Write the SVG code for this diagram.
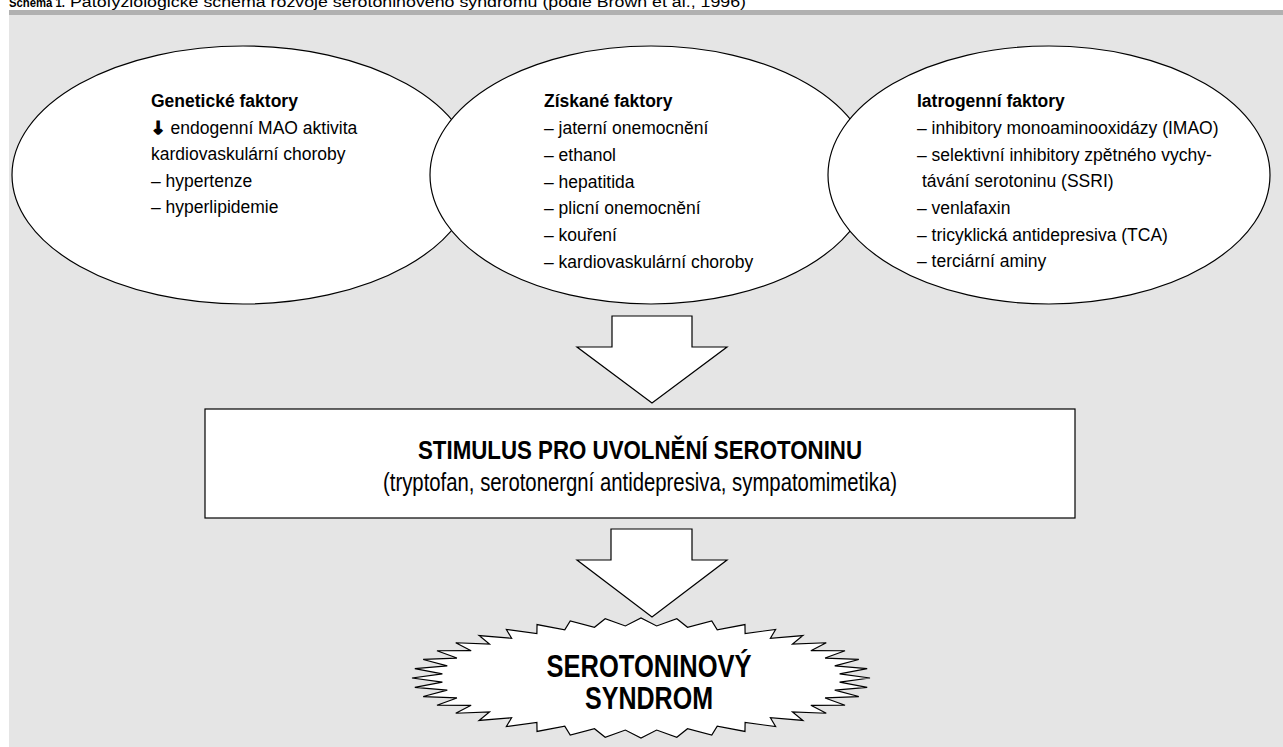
<svg xmlns="http://www.w3.org/2000/svg" width="1283" height="747" viewBox="0 0 1283 747">
<style>
.t{font-family:"Liberation Sans",Arial,sans-serif;font-size:17.5px;fill:#000}
.b{font-weight:bold}
.shape{fill:#fff;stroke:#000;stroke-width:1.2}
</style>
<rect x="0" y="0" width="1283" height="747" fill="#fff"/>
<text x="9" y="7" style="font-family:'Liberation Sans',Arial,sans-serif;font-size:13px;font-weight:bold" textLength="56" lengthAdjust="spacingAndGlyphs">Schéma 1.</text>
<text x="70" y="7" style="font-family:'Liberation Sans',Arial,sans-serif;font-size:14px" textLength="676" lengthAdjust="spacingAndGlyphs">Patofyziologické schéma rozvoje serotoninového syndromu (podle Brown et al., 1996)</text>
<rect x="9" y="10" width="1274" height="5" fill="#b1b1b1"/>
<rect x="9" y="15" width="1274" height="732" fill="#e5e5e5"/>

<g id="genetic">
<ellipse class="shape" cx="243" cy="175" rx="231" ry="129"/>
<text class="t b" x="151" y="107">Genetické faktory</text>
<text class="t" x="151" y="134"><tspan font-family="DejaVu Sans,sans-serif" font-weight="bold" stroke="#000" stroke-width="1.4">↓</tspan> endogenní MAO aktivita</text>
<text class="t" x="151" y="160">kardiovaskulární choroby</text>
<text class="t" x="151" y="187">– hypertenze</text>
<text class="t" x="151" y="213">– hyperlipidemie</text>
</g>

<g id="acquired">
<ellipse class="shape" cx="651" cy="175" rx="221" ry="129"/>
<text class="t b" x="544" y="107">Získané faktory</text>
<text class="t" x="544" y="134">– jaterní onemocnění</text>
<text class="t" x="544" y="161">– ethanol</text>
<text class="t" x="544" y="188">– hepatitida</text>
<text class="t" x="544" y="214">– plicní onemocnění</text>
<text class="t" x="544" y="241">– kouření</text>
<text class="t" x="544" y="268">– kardiovaskulární choroby</text>
</g>

<g id="iatrogenic">
<ellipse class="shape" cx="1049" cy="175" rx="221" ry="129"/>
<text class="t b" x="917" y="107">Iatrogenní faktory</text>
<text class="t" x="917" y="134">– inhibitory monoaminooxidázy (IMAO)</text>
<text class="t" x="917" y="161">– selektivní inhibitory zpětného vychy-</text>
<text class="t" x="922" y="187">távání serotoninu (SSRI)</text>
<text class="t" x="917" y="214">– venlafaxin</text>
<text class="t" x="917" y="241">– tricyklická antidepresiva (TCA)</text>
<text class="t" x="917" y="267">– terciární aminy</text>
</g>

<g id="connectors">
<polygon class="shape" points="612,316 692,316 692,347 727,347 652,403 577,347 612,347"/>
<polygon class="shape" points="611,529 692,529 692,560 727,560 652,617 577,560 611,560"/>
</g>

<g id="stimulus">
<rect class="shape" x="205" y="409" width="870" height="109"/>
<text class="t b" x="640" y="459" style="font-size:26px" text-anchor="middle" textLength="444" lengthAdjust="spacingAndGlyphs">STIMULUS PRO UVOLNĚNÍ SEROTONINU</text>
<text class="t" x="640" y="491" style="font-size:26px" text-anchor="middle" textLength="514" lengthAdjust="spacingAndGlyphs">(tryptofan, serotonergní antidepresiva, sympatomimetika)</text>
</g>

<g id="syndrome">
<polygon class="shape" vector-effect="non-scaling-stroke" transform="translate(641,678) scale(2.29,0.6)" points="100,0 86.73,-6.83 98.77,-15.64 84.6,-20.31 95.11,-30.9 80.38,-33.29 89.1,-45.4 74.18,-45.46 80.9,-58.78 66.16,-56.5 70.71,-70.71 56.5,-66.16 58.78,-80.9 45.46,-74.18 45.4,-89.1 33.29,-80.38 30.9,-95.11 20.31,-84.6 15.64,-98.77 6.83,-86.73 0,-100 -6.83,-86.73 -15.64,-98.77 -20.31,-84.6 -30.9,-95.11 -33.29,-80.38 -45.4,-89.1 -45.46,-74.18 -58.78,-80.9 -56.5,-66.16 -70.71,-70.71 -66.16,-56.5 -80.9,-58.78 -74.18,-45.46 -89.1,-45.4 -80.38,-33.29 -95.11,-30.9 -84.6,-20.31 -98.77,-15.64 -86.73,-6.83 -100,0 -86.73,6.83 -98.77,15.64 -84.6,20.31 -95.11,30.9 -80.38,33.29 -89.1,45.4 -74.18,45.46 -80.9,58.78 -66.16,56.5 -70.71,70.71 -56.5,66.16 -58.78,80.9 -45.46,74.18 -45.4,89.1 -33.29,80.38 -30.9,95.11 -20.31,84.6 -15.64,98.77 -6.83,86.73 0,100 6.83,86.73 15.64,98.77 20.31,84.6 30.9,95.11 33.29,80.38 45.4,89.1 45.46,74.18 58.78,80.9 56.5,66.16 70.71,70.71 66.16,56.5 80.9,58.78 74.18,45.46 89.1,45.4 80.38,33.29 95.11,30.9 84.6,20.31 98.77,15.64 86.73,6.83"/>
<text class="t b" x="649" y="677" style="font-size:32px" text-anchor="middle" textLength="205" lengthAdjust="spacingAndGlyphs">SEROTONINOVÝ</text>
<text class="t b" x="649" y="709" style="font-size:32px" text-anchor="middle" textLength="128" lengthAdjust="spacingAndGlyphs">SYNDROM</text>
</g>
</svg>
